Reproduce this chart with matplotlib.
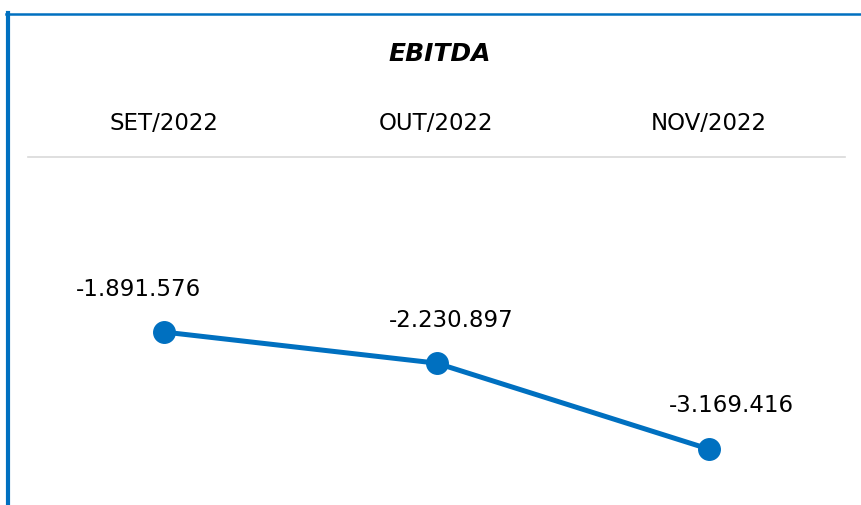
import matplotlib
matplotlib.use("Agg")
import matplotlib.pyplot as plt
from matplotlib.lines import Line2D

# ---- data ----
categories = ["SET/2022", "OUT/2022", "NOV/2022"]
ebitda = [-1891576, -2230897, -3169416]
title = "EBITDA"

def fmt(v):
    s = f"{abs(v):,}".replace(",", ".")
    return ("-" if v < 0 else "") + s

# ---- style ----
W, H, DPI = 861, 505, 100
blue = "#0070C0"
label_offsets = [(-26, 43), (15, 43), (23, 44)]  # pixels (dx, up)
FONT = "DejaVu Sans"

fig = plt.figure(figsize=(W / DPI, H / DPI), dpi=DPI)
fig.patch.set_facecolor("white")

def fx(px):
    return px / W

def fy(py):
    return 1 - py / H

# axes spanning the plot area
ax = fig.add_axes([fx(28), fy(505), fx(845) - fx(28), fy(157) - fy(505)])
x = list(range(len(categories)))
ax.plot(x, ebitda, color=blue, lw=3.6, marker="o", markersize=15.5,
        solid_capstyle="round", zorder=3, clip_on=False)
ax.set_xlim(-0.5, len(categories) - 0.5)
ax.set_ylim(-3.78e6, 0.02e6)
for s in ["left", "right", "bottom"]:
    ax.spines[s].set_visible(False)
ax.spines["top"].set_color("#D9D9D9")
ax.spines["top"].set_linewidth(1.2)
ax.set_xticks([])
ax.set_yticks([])

for i, v in enumerate(ebitda):
    dx, dy = label_offsets[i]
    ax.annotate(fmt(v), (i, v), xytext=(dx * 72 / DPI, dy * 72 / DPI),
                textcoords="offset points", ha="center", va="center",
                fontsize=16.5, family=FONT, color="#000000")

# category labels above axes
for i, c in enumerate(categories):
    ax.annotate(c, (i, 1), xycoords=("data", "axes fraction"),
                xytext=(0, (157 - 123) * 72 / DPI), textcoords="offset points",
                ha="center", va="center", fontsize=16.5, family=FONT,
                color="#000000", annotation_clip=False)

fig.text(fx(440), fy(54), title, ha="center", va="center", fontsize=18,
         fontweight="bold", fontstyle="italic", family=FONT, color="#000000")

# blue frame (top & left)
fig.add_artist(Line2D([fx(6), 1.0], [fy(14), fy(14)], color=blue, lw=1.8,
                      transform=fig.transFigure))
fig.add_artist(Line2D([fx(8), fx(8)], [fy(13), 0.0], color=blue, lw=3.0,
                      transform=fig.transFigure))

fig.savefig("out.png", dpi=DPI, facecolor="white")
